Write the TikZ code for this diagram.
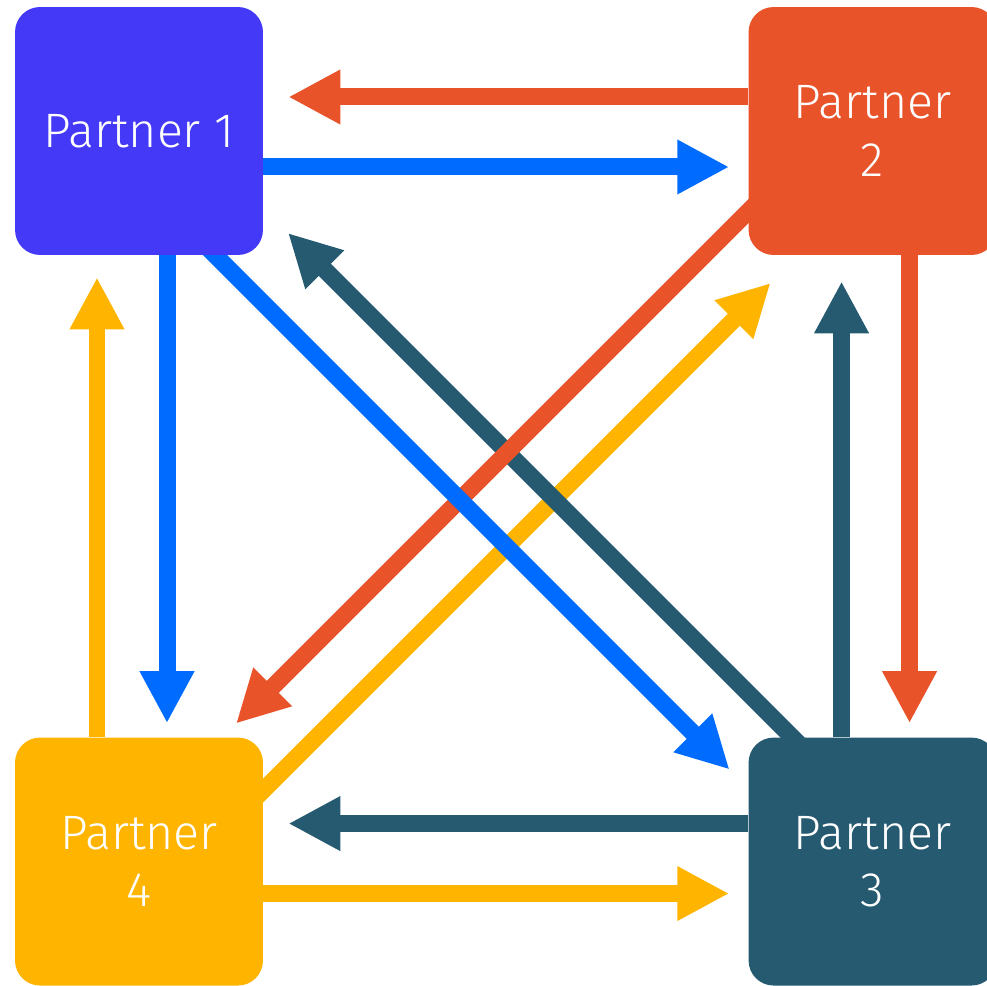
\documentclass[tikz,border=0pt]{standalone}
\usepackage{fontspec}
\setmainfont{Fira Sans Light}
\usetikzlibrary{positioning,calc,arrows.meta,backgrounds}
\definecolor{pviolet}{HTML}{4339F6}
\definecolor{pblue}{HTML}{006CFF}
\definecolor{porange}{HTML}{E8532A}
\definecolor{pteal}{HTML}{265A71}
\definecolor{pyellow}{HTML}{FFB400}
\tikzset{>={Triangle[length=1.04cm,width=1.02cm]}}
\tikzset{partner/.style={rectangle, rounded corners=0.5cm, minimum size=4.96cm, text=white, align=center, font=\fontsize{27.5}{32.5}\selectfont},
  link/.style={line width=0.34cm, ->}}

\begin{document}
\begin{tikzpicture}[x=0.02cm, y=-0.02cm]
      \useasboundingbox (0,0) rectangle (987,986);
      \node[partner, fill=pviolet] (p1) at (139,131) {Partner 1};
      \node[partner, fill=porange, right=9.7cm of p1] (p2) {Partner\\2};
      \node[partner, fill=pyellow, below=9.64cm of p1] (p4) {Partner\\4};
      \node[partner, fill=pteal, below=9.64cm of p2] (p3) {Partner\\3};
      \begin{scope}[on background layer]
      % top and bottom
      \draw[link, porange] ($(p2.west)+(0,-34)$) -- ($(p1.east)+(25,-34)$);
      \draw[link, pblue] ($(p1.east)+(0,36)$) -- ($(p2.west)+(-19,36)$);
      \draw[link, pteal] ($(p3.west)+(0,-38)$) -- ($(p4.east)+(25,-38)$);
      \draw[link, pyellow] ($(p4.east)+(0,32)$) -- ($(p3.west)+(-19,32)$);
      % left and right
      \draw[link, pyellow] ($(p4.north)+(-42,0)$) -- ($(p1.south)+(-42,22)$);
      \draw[link, pblue] ($(p1.south)+(28,0)$) -- ($(p4.north)+(28,-14)$);
      \draw[link, pteal] ($(p3.north)+(-31,0)$) -- ($(p2.south)+(-31,26)$);
      \draw[link, porange] ($(p2.south)+(37,0)$) -- ($(p3.north)+(37,-14)$);
      % diagonals
      \draw[link, pyellow] ($(p4.center)+(91,-38)$) -- ($(p2.center)+(-102,152)$);
      \draw[link, pteal] ($(p3.center)+(-52,-96)$) -- ($(p1.center)+(149,102)$);
      \draw[link, porange] ($(p2.center)+(-92,48)$) -- ($(p4.center)+(97,-138)$);
      \draw[link, pblue] ($(p1.center)+(41,89)$) -- ($(p3.center)+(-143,-92)$);
      \end{scope}
    \end{tikzpicture}
\end{document}
